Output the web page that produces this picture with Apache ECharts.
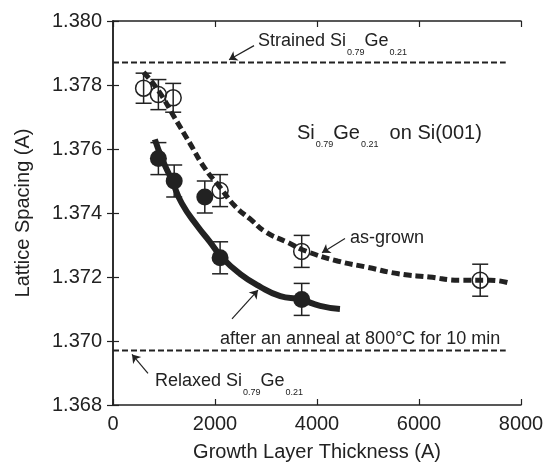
<!DOCTYPE html>
<html>
<head>
<meta charset="utf-8">
<script src="https://cdn.jsdelivr.net/npm/echarts@6/dist/echarts.min.js"></script>
<style>
  html, body { margin: 0; padding: 0; background: #fff; }
  #chart { width: 553px; height: 467px; }
</style>
</head>
<body>
<div id="chart"></div>
<script>
// measured points (thickness in A, lattice spacing in A)
const openX = [600, 890, 1180, 2100, 3700, 7200];
const openY = [1.3779, 1.3777, 1.3776, 1.3747, 1.3728, 1.3719];
const openErr = [0.00047, 0.00047, 0.00045, 0.0005, 0.0005, 0.0005];

const filledX = [890, 1200, 1800, 2100, 3700];
const filledY = [1.3757, 1.3750, 1.3745, 1.3726, 1.3713];
const filledErr = [0.0005, 0.0005, 0.0005, 0.0005, 0.0005];

// guide curves
const grownCurveX = [600, 900, 1200, 1500, 1800, 2100, 2400, 2700, 3000, 3400, 3800, 4400, 5000, 5600, 6200, 6800, 7400, 7800];
const grownCurveY = [1.3784, 1.3778, 1.3770, 1.3762, 1.3754, 1.3748, 1.3742, 1.3738, 1.3734, 1.3731, 1.3728, 1.3725, 1.3723, 1.3721, 1.3720, 1.3719, 1.3719, 1.3718];
const annealCurveX = [820, 960, 1160, 1350, 1650, 1900, 2140, 2490, 2880, 3280, 3670, 4060, 4450];
const annealCurveY = [1.3763, 1.3757, 1.3750, 1.3743, 1.3736, 1.3731, 1.3726, 1.3721, 1.3717, 1.3714, 1.3713, 1.3711, 1.3710];

const strainedY = 1.3787;
const relaxedY = 1.3697;
const refLineX = [0, 7700];

const FONT = 'Liberation Sans, Arial, sans-serif';
const INK = '#222';

const zip = (xs, ys) => xs.map((x, i) => [x, ys[i]]);
const errData = (xs, ys, es) => xs.map((x, i) => [x, ys[i] - es[i], ys[i] + es[i]]);

function errorBar(params, api) {
  const x = api.value(0);
  const lo = api.coord([x, api.value(1)]);
  const hi = api.coord([x, api.value(2)]);
  const w = 8;
  const style = { stroke: INK, lineWidth: 1.5 };
  return {
    type: 'group',
    children: [
      { type: 'line', shape: { x1: lo[0], y1: lo[1], x2: hi[0], y2: hi[1] }, style },
      { type: 'line', shape: { x1: lo[0] - w, y1: lo[1], x2: lo[0] + w, y2: lo[1] }, style },
      { type: 'line', shape: { x1: hi[0] - w, y1: hi[1], x2: hi[0] + w, y2: hi[1] }, style }
    ]
  };
}

const subRich = {
  m: { fontSize: 18, lineHeight: 20, verticalAlign: 'top', fontFamily: FONT, fill: INK },
  b: { fontSize: 20, lineHeight: 21, verticalAlign: 'top', fontFamily: FONT, fill: INK },
  s: { fontSize: 9, lineHeight: 10, padding: [16, 0, 0, 1], verticalAlign: 'top', fontFamily: FONT, fill: INK },
  t: { fontSize: 9, lineHeight: 10, padding: [17, 0, 0, 1], verticalAlign: 'top', fontFamily: FONT, fill: INK }
};

const chart = echarts.init(document.getElementById('chart'));

const axisCommon = {
  type: 'value',
  axisLine: { show: true, lineStyle: { color: INK, width: 1.5 } },
  axisTick: { show: true, inside: true, length: 6, lineStyle: { color: INK, width: 1.2 } },
  splitLine: { show: false }
};

chart.setOption({
  animation: false,
  backgroundColor: '#fff',
  grid: { left: 113, right: 32, top: 21, bottom: 58 },
  xAxis: [
    Object.assign({}, axisCommon, {
      position: 'bottom', min: 0, max: 8000, interval: 2000,
      axisLabel: { color: INK, fontSize: 20, fontFamily: FONT, margin: 9, formatter: v => String(v) },
      name: 'Growth Layer Thickness (A)', nameLocation: 'middle', nameGap: 37,
      nameTextStyle: { color: INK, fontSize: 20, fontFamily: FONT }
    }),
    Object.assign({}, axisCommon, {
      position: 'top', min: 0, max: 8000, interval: 2000, axisLabel: { show: false }
    })
  ],
  yAxis: [
    Object.assign({}, axisCommon, {
      position: 'left', min: 1.368, max: 1.380, interval: 0.002,
      axisLabel: { color: INK, fontSize: 20, fontFamily: FONT, margin: 11, formatter: v => v.toFixed(3) },
      name: 'Lattice Spacing (A)', nameLocation: 'middle', nameGap: 80,
      nameTextStyle: { color: INK, fontSize: 20, fontFamily: FONT }
    }),
    Object.assign({}, axisCommon, {
      position: 'right', min: 1.368, max: 1.380, interval: 0.002, axisLabel: { show: false }
    })
  ],
  series: [
    {
      type: 'line', data: zip(refLineX, [strainedY, strainedY]), symbol: 'none',
      lineStyle: { color: INK, width: 2, type: [6, 3] }
    },
    {
      type: 'line', data: zip(refLineX, [relaxedY, relaxedY]), symbol: 'none',
      lineStyle: { color: INK, width: 2, type: [6, 3] }
    },
    {
      type: 'line', data: zip(grownCurveX, grownCurveY), symbol: 'none', smooth: true,
      lineStyle: { color: INK, width: 5, type: [8, 4] }
    },
    {
      type: 'line', data: zip(annealCurveX, annealCurveY), symbol: 'none', smooth: true,
      lineStyle: { color: INK, width: 6 },
      markLine: {
        silent: true, symbol: ['none', 'arrow'], symbolSize: 8,
        label: { show: false },
        lineStyle: { color: INK, width: 1.2, type: 'solid' },
        data: [
          [{ coord: [2765, 1.37923] }, { coord: [2275, 1.37879] }],
          [{ coord: [4549, 1.37320] }, { coord: [4098, 1.37276] }],
          [{ coord: [2333, 1.37069] }, { coord: [2843, 1.37159] }],
          [{ coord: [686, 1.36899] }, { coord: [373, 1.36958] }]
        ]
      }
    },
    { type: 'custom', renderItem: errorBar, data: errData(openX, openY, openErr), z: 3 },
    { type: 'custom', renderItem: errorBar, data: errData(filledX, filledY, filledErr), z: 3 },
    {
      type: 'scatter', data: zip(openX, openY), symbol: 'circle', symbolSize: 16, z: 4,
      itemStyle: { color: 'rgba(255,255,255,0)', borderColor: INK, borderWidth: 1.5, opacity: 1 }
    },
    {
      type: 'scatter', data: zip(filledX, filledY), symbol: 'circle', symbolSize: 17, z: 4,
      itemStyle: { color: INK, opacity: 1 }
    }
  ],
  graphic: [
    { type: 'text', left: 258, top: 32, style: { text: '{m|Strained Si}{s|0.79}{m|Ge}{s|0.21}', rich: subRich } },
    { type: 'text', left: 297, top: 123, style: { text: '{b|Si}{t|0.79}{b|Ge}{t|0.21}{b|  on Si(001)}', rich: subRich } },
    { type: 'text', left: 350, top: 229, style: { text: 'as-grown', fontSize: 18, fontFamily: FONT, fill: INK } },
    { type: 'text', left: 220, top: 330, style: { text: 'after an anneal at 800°C for 10 min', fontSize: 18, fontFamily: FONT, fill: INK } },
    { type: 'text', left: 155, top: 372, style: { text: '{m|Relaxed Si}{s|0.79}{m|Ge}{s|0.21}', rich: subRich } }
  ]
});
</script>
</body>
</html>
